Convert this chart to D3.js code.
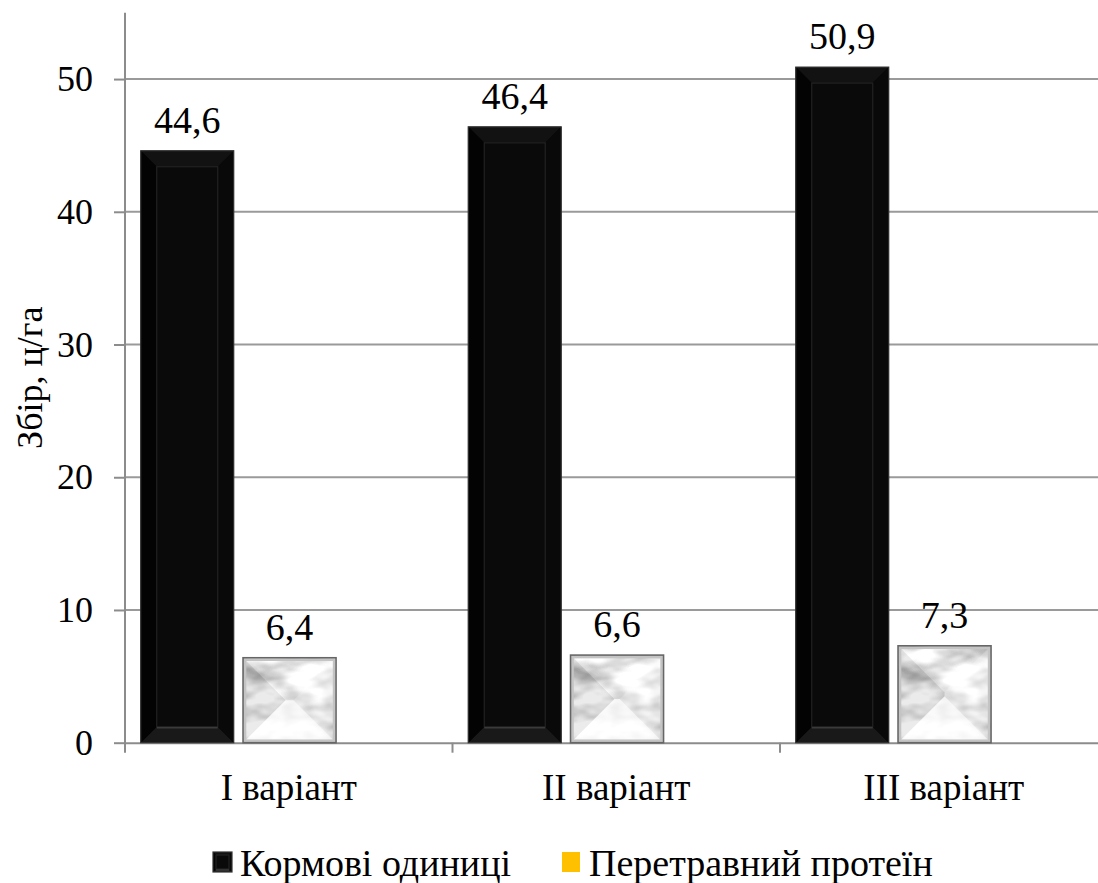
<!DOCTYPE html>
<html>
<head>
<meta charset="utf-8">
<script src="https://cdn.jsdelivr.net/npm/d3@7"></script>
</head>
<body style="margin:0;background:#fff">
<svg id="chart" width="1098" height="883"></svg>
<script>
// Harvest of feed units and digestible protein by variant, c/ha
const categories = ["I варіант", "II варіант", "III варіант"];
const seriesNames = ["Кормові одиниці", "Перетравний протеїн"];
const feedUnits = [44.6, 46.4, 50.9];
const digestibleProtein = [6.4, 6.6, 7.3];
const yTicks = [0, 10, 20, 30, 40, 50];
const yTitle = "Збір, ц/га";

const FONT = '"Liberation Serif", "Times New Roman", serif';

const svg = d3.select("#chart");
const margin = { left: 125, top: 12.7, right: 1107.5, bottom: 742.7 };

const locale = d3.formatLocale({ decimal: ",", thousands: " ", grouping: [3], currency: ["", ""] });
const fmt = locale.format(".1f");

const x0 = d3.scaleBand().domain(categories).range([margin.left, margin.right]).padding(0);
const x1 = d3.scaleBand().domain(seriesNames).range([0, x0.bandwidth()])
  .paddingInner(0.091).paddingOuter(0.646).align(0.119);
const y = d3.scaleLinear().domain([0, 55]).range([margin.bottom, margin.top]);

const rows = categories.map((c, i) => ({ cat: c, vals: [feedUnits[i], digestibleProtein[i]] }));

// ---- defs: marble texture for the protein bars
const defs = svg.append("defs");
const marble = defs.append("filter").attr("id", "marble")
  .attr("x", 0).attr("y", 0).attr("width", 1).attr("height", 1);
marble.append("feTurbulence").attr("type", "fractalNoise")
  .attr("baseFrequency", "0.025 0.05").attr("numOctaves", 3).attr("seed", 11).attr("result", "noise");
marble.append("feColorMatrix").attr("in", "noise").attr("type", "matrix")
  .attr("values", "1.45 0 0 0 0.04  1.45 0 0 0 0.04  1.45 0 0 0 0.04  0 0 0 0 1").attr("result", "grey");
marble.append("feComposite").attr("in", "grey").attr("in2", "SourceGraphic").attr("operator", "in");

// ---- gridlines
svg.append("g").selectAll("line").data(yTicks.filter(t => t > 0)).join("line")
  .attr("x1", margin.left).attr("x2", margin.right)
  .attr("y1", d => y(d)).attr("y2", d => y(d))
  .attr("stroke", "#9a9a9a").attr("stroke-width", 2);

// ---- y axis
const yAxis = svg.append("g").attr("transform", `translate(${margin.left},0)`)
  .call(d3.axisLeft(y).tickValues(yTicks).tickSize(11).tickPadding(21).tickFormat(d3.format("d")));
yAxis.attr("font-family", FONT).attr("font-size", 36);
yAxis.select(".domain").attr("stroke", "#8c8c8c").attr("stroke-width", 2)
  .attr("d", `M0,${margin.top}V${margin.bottom + 10}`);
yAxis.selectAll(".tick line").attr("stroke", "#8c8c8c").attr("stroke-width", 2);
yAxis.selectAll(".tick text").attr("fill", "#000").style("font-family", FONT).style("font-size", "36px");

// ---- x axis
const xAxis = svg.append("g").attr("transform", `translate(0,${margin.bottom})`)
  .call(d3.axisBottom(x0).tickSize(0).tickPadding(57));
xAxis.attr("font-family", FONT).attr("font-size", 37);
xAxis.select(".domain").attr("stroke", "#8c8c8c").attr("stroke-width", 2);
xAxis.selectAll(".tick text").attr("fill", "#000").attr("dy", "0")
  .style("font-family", FONT).style("font-size", "37px");
// category separators
svg.append("g").selectAll("line").data(categories.slice(1)).join("line")
  .attr("x1", d => x0(d)).attr("x2", d => x0(d))
  .attr("y1", margin.bottom).attr("y2", margin.bottom + 10)
  .attr("stroke", "#8c8c8c").attr("stroke-width", 2);

// ---- bevel helpers
function facePaths(x, yTop, w, h, inset) {
  const ins = Math.min(inset, w / 2, h / 2);
  const xl = x, xr = x + w, yt = yTop, yb = yTop + h;
  const ixl = x + ins, ixr = x + w - ins, iyt = yTop + ins, iyb = yTop + h - ins;
  return {
    top: `M${xl},${yt}L${xr},${yt}L${ixr},${iyt}L${ixl},${iyt}Z`,
    bottom: `M${xl},${yb}L${xr},${yb}L${ixr},${iyb}L${ixl},${iyb}Z`,
    left: `M${xl},${yt}L${ixl},${iyt}L${ixl},${iyb}L${xl},${yb}Z`,
    right: `M${xr},${yt}L${ixr},${iyt}L${ixr},${iyb}L${xr},${yb}Z`,
    inner: [ixl, iyt, ixr - ixl, iyb - iyt]
  };
}

function blackBar(g, x, yTop, w, h, inset) {
  g.append("rect").attr("x", x).attr("y", yTop).attr("width", w).attr("height", h).attr("fill", "#050505");
  const f = facePaths(x, yTop, w, h, inset);
  g.append("path").attr("d", f.top).attr("fill", "#121212");
  g.append("path").attr("d", f.bottom).attr("fill", "#191919");
  g.append("path").attr("d", f.left).attr("fill", "#030303");
  g.append("path").attr("d", f.right).attr("fill", "#090909");
  g.append("rect").attr("x", f.inner[0]).attr("y", f.inner[1])
    .attr("width", Math.max(0, f.inner[2])).attr("height", Math.max(0, f.inner[3]))
    .attr("fill", "#0a0a0a").attr("stroke", "#222").attr("stroke-width", 1.2);
  // highlight along the lower bevel edge
  g.append("line").attr("x1", f.inner[0]).attr("x2", f.inner[0] + f.inner[2])
    .attr("y1", f.inner[1] + f.inner[3] + 1).attr("y2", f.inner[1] + f.inner[3] + 1)
    .attr("stroke", "#3a3a3a").attr("stroke-width", 1.5);
  g.append("rect").attr("x", x).attr("y", yTop).attr("width", w).attr("height", h)
    .attr("fill", "none").attr("stroke", "#333").attr("stroke-width", 1.2);
}

function marbleBar(g, x, yTop, w, h, inset) {
  g.append("rect").attr("x", x).attr("y", yTop).attr("width", w).attr("height", h)
    .attr("fill", "#ccc").attr("filter", "url(#marble)");
  const f = facePaths(x, yTop, w, h, inset);
  g.append("path").attr("d", f.top).attr("fill", "rgba(255,255,255,0.12)");
  g.append("path").attr("d", f.bottom).attr("fill", "rgba(255,255,255,0.72)");
  g.append("path").attr("d", f.left).attr("fill", "rgba(60,60,60,0.1)");
  g.append("path").attr("d", f.right).attr("fill", "rgba(255,255,255,0.3)");
  g.append("rect").attr("x", x + 2).attr("y", yTop + 2).attr("width", w - 4).attr("height", h - 4)
    .attr("fill", "none").attr("stroke", "#c4c4c4").attr("stroke-width", 2.5);
  g.append("rect").attr("x", x).attr("y", yTop).attr("width", w).attr("height", h)
    .attr("fill", "none").attr("stroke", "#666").attr("stroke-width", 1.6);
}

// ---- bars
const groups = svg.append("g").selectAll("g").data(rows).join("g")
  .attr("transform", d => `translate(${x0(d.cat)},0)`);

groups.each(function (d) {
  const g = d3.select(this);
  seriesNames.forEach((s, si) => {
    const v = d.vals[si];
    const bx = x1(s), bw = x1.bandwidth();
    const by = y(v), bh = y(0) - y(v);
    if (si === 0) blackBar(g, bx, by, bw, bh, 16);
    else marbleBar(g, bx, by, bw, bh, Math.min(bw, bh) * 0.5);
    g.append("text").attr("x", bx + bw / 2).attr("y", by - 18)
      .attr("text-anchor", "middle").attr("fill", "#000")
      .style("font-family", FONT).style("font-size", "38px")
      .text(fmt(v));
  });
});

// ---- y title
svg.append("text")
  .attr("transform", `translate(42,${(margin.top + margin.bottom) / 2}) rotate(-90)`)
  .attr("text-anchor", "middle").attr("fill", "#000")
  .style("font-family", FONT).style("font-size", "36px")
  .text(yTitle);

// ---- legend
const legendItems = [
  { name: seriesNames[0], x: 213, kind: "black" },
  { name: seriesNames[1], x: 562, kind: "yellow" }
];
const lg = svg.append("g");
legendItems.forEach(it => {
  const g = lg.append("g");
  if (it.kind === "black") {
    blackBar(g, it.x, 852, 19, 20, 3);
  } else {
    g.append("rect").attr("x", it.x).attr("y", 852).attr("width", 18).attr("height", 20).attr("fill", "#FFC000");
  }
  g.append("text").attr("x", it.x + 27).attr("y", 876).attr("fill", "#000")
    .style("font-family", FONT).style("font-size", "38px")
    .text(it.name);
});
</script>
</body>
</html>
